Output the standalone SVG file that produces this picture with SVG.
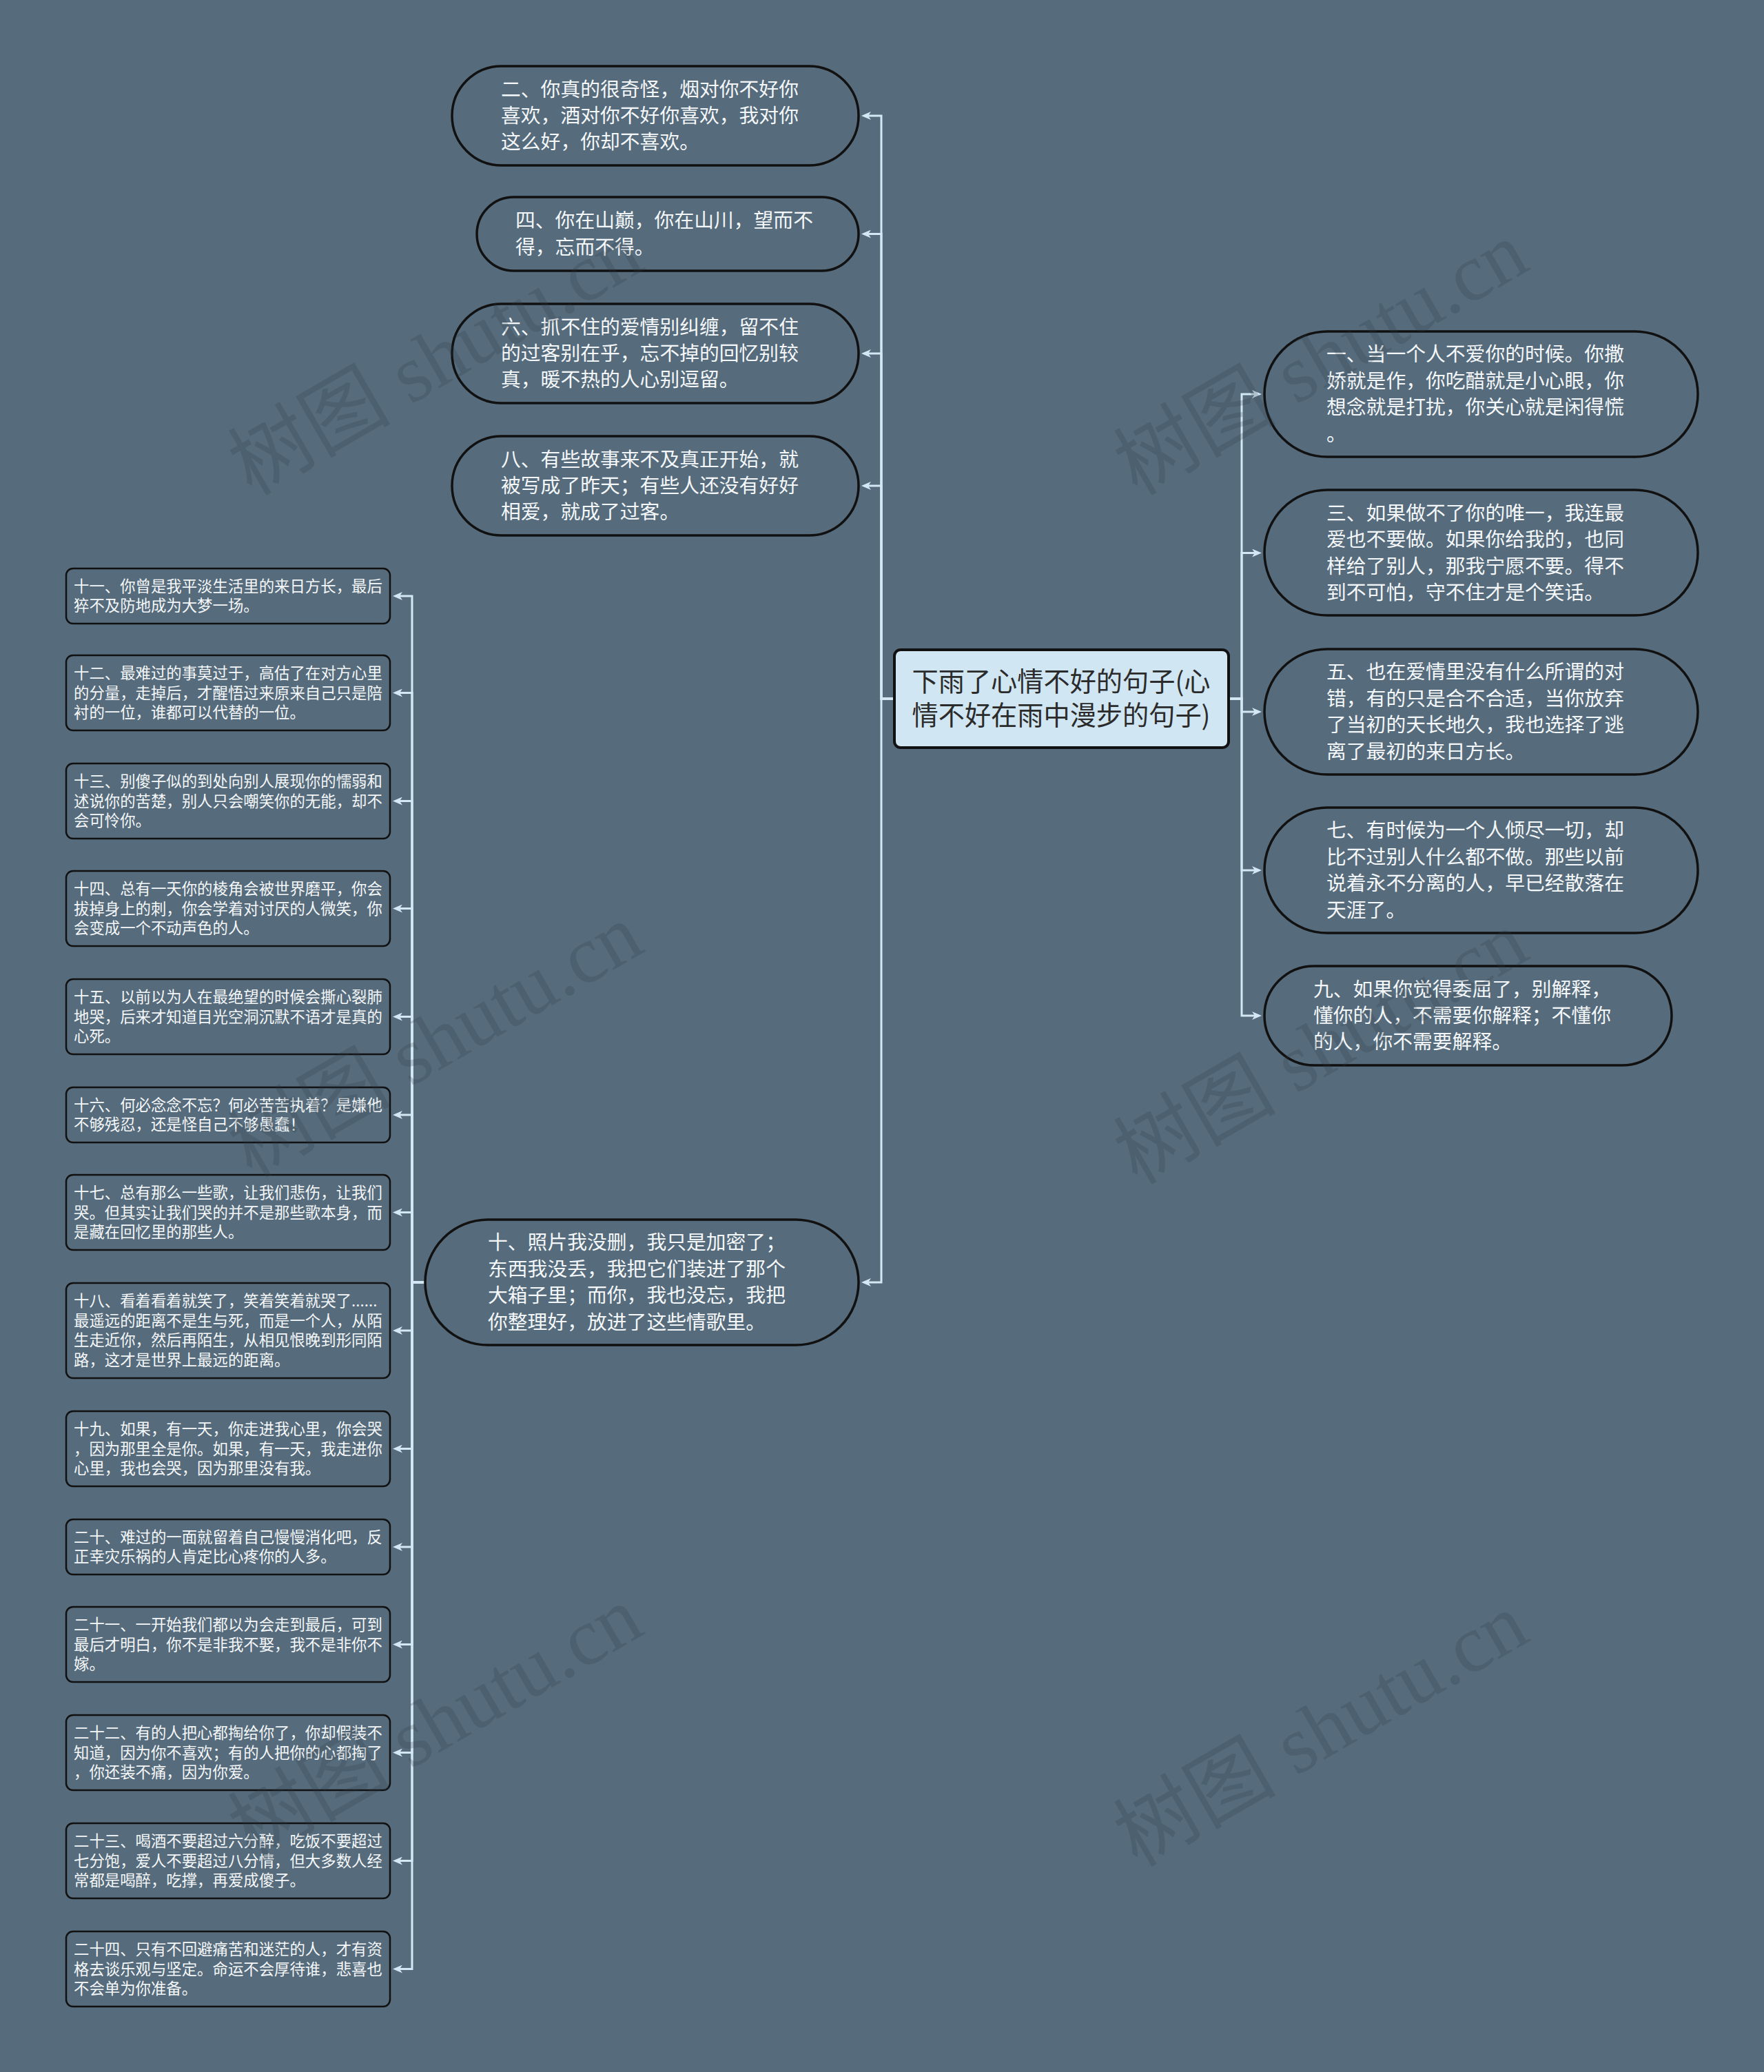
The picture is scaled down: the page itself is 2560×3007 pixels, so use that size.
<svg xmlns="http://www.w3.org/2000/svg" width="2560" height="3007" viewBox="0 0 2560 3007">
<style>
.bg{fill:#566b7b}
.pill{fill:#566b7b;stroke:#111;stroke-width:3.5}
.box{fill:#566b7b;stroke:#111;stroke-width:2.5}
.root{fill:#d0e6f2;stroke:#111;stroke-width:4}
.t{font-family:"Noto Sans CJK SC","Noto Sans",sans-serif;fill:#f4f7f9}
.tl{font-size:28.8px}
.ts{font-size:22.4px}
.tr{font-family:"Noto Sans CJK SC","Noto Sans",sans-serif;font-size:38.2px;fill:#2b2b2b;text-anchor:middle}
.c{fill:none;stroke:#d3e8f4;stroke-width:3}
.wm{font-family:"Liberation Serif","Noto Sans CJK SC",serif;font-size:118px;fill:#2e3d48;opacity:0.22;text-anchor:middle}
</style>
<defs>
<marker id="ah" viewBox="0 0 14 12" refX="10" refY="6" markerWidth="14" markerHeight="12" markerUnits="userSpaceOnUse" orient="auto">
<path d="M0,0 L14,6 L0,12 L4,6 z" fill="#d3e8f4"/>
</marker>
</defs>
<rect class="bg" x="0" y="0" width="2560" height="3007"/>

<g id="connectors">
<path class="c" marker-end="url(#ah)" d="M1298 1014 H1279 V168 H1254"/>
<path class="c" marker-end="url(#ah)" d="M1298 1014 H1279 V339.5 H1254"/>
<path class="c" marker-end="url(#ah)" d="M1298 1014 H1279 V513 H1254"/>
<path class="c" marker-end="url(#ah)" d="M1298 1014 H1279 V705 H1254"/>
<path class="c" marker-end="url(#ah)" d="M1298 1014 H1279 V1861 H1254"/>
<path class="c" marker-end="url(#ah)" d="M1783 1014 H1802 V572 H1827"/>
<path class="c" marker-end="url(#ah)" d="M1783 1014 H1802 V802.5 H1827"/>
<path class="c" marker-end="url(#ah)" d="M1783 1014 H1802 V1033 H1827"/>
<path class="c" marker-end="url(#ah)" d="M1783 1014 H1802 V1263 H1827"/>
<path class="c" marker-end="url(#ah)" d="M1783 1014 H1802 V1474 H1827"/>
<path class="c" marker-end="url(#ah)" d="M617 1861 H598 V865 H574"/>
<path class="c" marker-end="url(#ah)" d="M617 1861 H598 V1005.5 H574"/>
<path class="c" marker-end="url(#ah)" d="M617 1861 H598 V1162.5 H574"/>
<path class="c" marker-end="url(#ah)" d="M617 1861 H598 V1318.5 H574"/>
<path class="c" marker-end="url(#ah)" d="M617 1861 H598 V1475.5 H574"/>
<path class="c" marker-end="url(#ah)" d="M617 1861 H598 V1618 H574"/>
<path class="c" marker-end="url(#ah)" d="M617 1861 H598 V1759.5 H574"/>
<path class="c" marker-end="url(#ah)" d="M617 1861 H598 V1931 H574"/>
<path class="c" marker-end="url(#ah)" d="M617 1861 H598 V2102.5 H574"/>
<path class="c" marker-end="url(#ah)" d="M617 1861 H598 V2245 H574"/>
<path class="c" marker-end="url(#ah)" d="M617 1861 H598 V2386.5 H574"/>
<path class="c" marker-end="url(#ah)" d="M617 1861 H598 V2543.5 H574"/>
<path class="c" marker-end="url(#ah)" d="M617 1861 H598 V2700.5 H574"/>
<path class="c" marker-end="url(#ah)" d="M617 1861 H598 V2857.5 H574"/>
</g>

<g id="root">
<rect class="root" x="1298" y="943" width="485" height="142" rx="9"/>
<text class="tr" x="1540" y="1003">下雨了心情不好的句子(心</text>
<text class="tr" x="1540" y="1052">情不好在雨中漫步的句子)</text>
</g>

<g id="n2">
<rect class="pill" x="656" y="96" width="590" height="144" rx="72"/>
<text class="t tl" x="727" y="140">二、你真的很奇怪，烟对你不好你</text>
<text class="t tl" x="727" y="178">喜欢，酒对你不好你喜欢，我对你</text>
<text class="t tl" x="727" y="216">这么好，你却不喜欢。</text>
</g>
<g id="n4">
<rect class="pill" x="692" y="286" width="554" height="107" rx="53.5"/>
<text class="t tl" x="748" y="330">四、你在山巅，你在山川，望而不</text>
<text class="t tl" x="748" y="369">得，忘而不得。</text>
</g>
<g id="n6">
<rect class="pill" x="656" y="441" width="590" height="144" rx="72"/>
<text class="t tl" x="727" y="485">六、抓不住的爱情别纠缠，留不住</text>
<text class="t tl" x="727" y="523">的过客别在乎，忘不掉的回忆别较</text>
<text class="t tl" x="727" y="561">真，暖不热的人心别逗留。</text>
</g>
<g id="n8">
<rect class="pill" x="656" y="633" width="590" height="144" rx="72"/>
<text class="t tl" x="727" y="677">八、有些故事来不及真正开始，就</text>
<text class="t tl" x="727" y="715">被写成了昨天；有些人还没有好好</text>
<text class="t tl" x="727" y="753">相爱，就成了过客。</text>
</g>
<g id="n10">
<rect class="pill" x="617" y="1770" width="629" height="182" rx="91"/>
<text class="t tl" x="708" y="1813">十、照片我没删，我只是加密了；</text>
<text class="t tl" x="708" y="1852">东西我没丢，我把它们装进了那个</text>
<text class="t tl" x="708" y="1890">大箱子里；而你，我也没忘，我把</text>
<text class="t tl" x="708" y="1929">你整理好，放进了这些情歌里。</text>
</g>

<g id="n1">
<rect class="pill" x="1835" y="481" width="629" height="182" rx="91"/>
<text class="t tl" x="1925" y="524">一、当一个人不爱你的时候。你撒</text>
<text class="t tl" x="1925" y="563">娇就是作，你吃醋就是小心眼，你</text>
<text class="t tl" x="1925" y="601">想念就是打扰，你关心就是闲得慌</text>
<text class="t tl" x="1925" y="640">。</text>
</g>
<g id="n3">
<rect class="pill" x="1835" y="711" width="629" height="182" rx="91"/>
<text class="t tl" x="1925" y="755">三、如果做不了你的唯一，我连最</text>
<text class="t tl" x="1925" y="793">爱也不要做。如果你给我的，也同</text>
<text class="t tl" x="1925" y="832">样给了别人，那我宁愿不要。得不</text>
<text class="t tl" x="1925" y="870">到不可怕，守不住才是个笑话。</text>
</g>
<g id="n5">
<rect class="pill" x="1835" y="942" width="629" height="182" rx="91"/>
<text class="t tl" x="1925" y="985">五、也在爱情里没有什么所谓的对</text>
<text class="t tl" x="1925" y="1024">错，有的只是合不合适，当你放弃</text>
<text class="t tl" x="1925" y="1062">了当初的天长地久，我也选择了逃</text>
<text class="t tl" x="1925" y="1101">离了最初的来日方长。</text>
</g>
<g id="n7">
<rect class="pill" x="1835" y="1172" width="629" height="182" rx="91"/>
<text class="t tl" x="1925" y="1215">七、有时候为一个人倾尽一切，却</text>
<text class="t tl" x="1925" y="1254">比不过别人什么都不做。那些以前</text>
<text class="t tl" x="1925" y="1292">说着永不分离的人，早已经散落在</text>
<text class="t tl" x="1925" y="1331">天涯了。</text>
</g>
<g id="n9">
<rect class="pill" x="1835" y="1402" width="591" height="144" rx="72"/>
<text class="t tl" x="1906" y="1446">九、如果你觉得委屈了，别解释，</text>
<text class="t tl" x="1906" y="1484">懂你的人，不需要你解释；不懂你</text>
<text class="t tl" x="1906" y="1522">的人，你不需要解释。</text>
</g>

<g id="n11">
<rect class="box" x="96" y="825" width="470" height="80" rx="10"/>
<text class="t ts" x="107" y="859">十一、你曾是我平淡生活里的来日方长，最后</text>
<text class="t ts" x="107" y="887">猝不及防地成为大梦一场。</text>
</g>
<g id="n12">
<rect class="box" x="96" y="951" width="470" height="109" rx="10"/>
<text class="t ts" x="107" y="985">十二、最难过的事莫过于，高估了在对方心里</text>
<text class="t ts" x="107" y="1014">的分量，走掉后，才醒悟过来原来自己只是陪</text>
<text class="t ts" x="107" y="1042">衬的一位，谁都可以代替的一位。</text>
</g>
<g id="n13">
<rect class="box" x="96" y="1108" width="470" height="109" rx="10"/>
<text class="t ts" x="107" y="1142">十三、别傻子似的到处向别人展现你的懦弱和</text>
<text class="t ts" x="107" y="1171">述说你的苦楚，别人只会嘲笑你的无能，却不</text>
<text class="t ts" x="107" y="1199">会可怜你。</text>
</g>
<g id="n14">
<rect class="box" x="96" y="1264" width="470" height="109" rx="10"/>
<text class="t ts" x="107" y="1298">十四、总有一天你的棱角会被世界磨平，你会</text>
<text class="t ts" x="107" y="1327">拔掉身上的刺，你会学着对讨厌的人微笑，你</text>
<text class="t ts" x="107" y="1355">会变成一个不动声色的人。</text>
</g>
<g id="n15">
<rect class="box" x="96" y="1421" width="470" height="109" rx="10"/>
<text class="t ts" x="107" y="1455">十五、以前以为人在最绝望的时候会撕心裂肺</text>
<text class="t ts" x="107" y="1484">地哭，后来才知道目光空洞沉默不语才是真的</text>
<text class="t ts" x="107" y="1512">心死。</text>
</g>
<g id="n16">
<rect class="box" x="96" y="1578" width="470" height="80" rx="10"/>
<text class="t ts" x="107" y="1612">十六、何必念念不忘？何必苦苦执着？是嫌他</text>
<text class="t ts" x="107" y="1640">不够残忍，还是怪自己不够愚蠢！</text>
</g>
<g id="n17">
<rect class="box" x="96" y="1705" width="470" height="109" rx="10"/>
<text class="t ts" x="107" y="1739">十七、总有那么一些歌，让我们悲伤，让我们</text>
<text class="t ts" x="107" y="1768">哭。但其实让我们哭的并不是那些歌本身，而</text>
<text class="t ts" x="107" y="1796">是藏在回忆里的那些人。</text>
</g>
<g id="n18">
<rect class="box" x="96" y="1862" width="470" height="138" rx="10"/>
<text class="t ts" x="107" y="1896">十八、看着看着就笑了，笑着笑着就哭了......</text>
<text class="t ts" x="107" y="1925">最遥远的距离不是生与死，而是一个人，从陌</text>
<text class="t ts" x="107" y="1953">生走近你，然后再陌生，从相见恨晚到形同陌</text>
<text class="t ts" x="107" y="1982">路，这才是世界上最远的距离。</text>
</g>
<g id="n19">
<rect class="box" x="96" y="2048" width="470" height="109" rx="10"/>
<text class="t ts" x="107" y="2082">十九、如果，有一天，你走进我心里，你会哭</text>
<text class="t ts" x="107" y="2111">，因为那里全是你。如果，有一天，我走进你</text>
<text class="t ts" x="107" y="2139">心里，我也会哭，因为那里没有我。</text>
</g>
<g id="n20">
<rect class="box" x="96" y="2205" width="470" height="80" rx="10"/>
<text class="t ts" x="107" y="2239">二十、难过的一面就留着自己慢慢消化吧，反</text>
<text class="t ts" x="107" y="2267">正幸灾乐祸的人肯定比心疼你的人多。</text>
</g>
<g id="n21">
<rect class="box" x="96" y="2332" width="470" height="109" rx="10"/>
<text class="t ts" x="107" y="2366">二十一、一开始我们都以为会走到最后，可到</text>
<text class="t ts" x="107" y="2395">最后才明白，你不是非我不娶，我不是非你不</text>
<text class="t ts" x="107" y="2423">嫁。</text>
</g>
<g id="n22">
<rect class="box" x="96" y="2489" width="470" height="109" rx="10"/>
<text class="t ts" x="107" y="2523">二十二、有的人把心都掏给你了，你却假装不</text>
<text class="t ts" x="107" y="2552">知道，因为你不喜欢；有的人把你的心都掏了</text>
<text class="t ts" x="107" y="2580">，你还装不痛，因为你爱。</text>
</g>
<g id="n23">
<rect class="box" x="96" y="2646" width="470" height="109" rx="10"/>
<text class="t ts" x="107" y="2680">二十三、喝酒不要超过六分醉，吃饭不要超过</text>
<text class="t ts" x="107" y="2709">七分饱，爱人不要超过八分情，但大多数人经</text>
<text class="t ts" x="107" y="2737">常都是喝醉，吃撑，再爱成傻子。</text>
</g>
<g id="n24">
<rect class="box" x="96" y="2803" width="470" height="109" rx="10"/>
<text class="t ts" x="107" y="2837">二十四、只有不回避痛苦和迷茫的人，才有资</text>
<text class="t ts" x="107" y="2866">格去谈乐观与坚定。命运不会厚待谁，悲喜也</text>
<text class="t ts" x="107" y="2894">不会单为你准备。</text>
</g>

<g id="watermarks">
<text class="wm" transform="translate(652 555) rotate(-30)">树图 shutu.cn</text>
<text class="wm" transform="translate(1937 555) rotate(-30)">树图 shutu.cn</text>
<text class="wm" transform="translate(652 1545) rotate(-30)">树图 shutu.cn</text>
<text class="wm" transform="translate(1937 1555) rotate(-30)">树图 shutu.cn</text>
<text class="wm" transform="translate(652 2535) rotate(-30)">树图 shutu.cn</text>
<text class="wm" transform="translate(1937 2545) rotate(-30)">树图 shutu.cn</text>
</g>
</svg>
